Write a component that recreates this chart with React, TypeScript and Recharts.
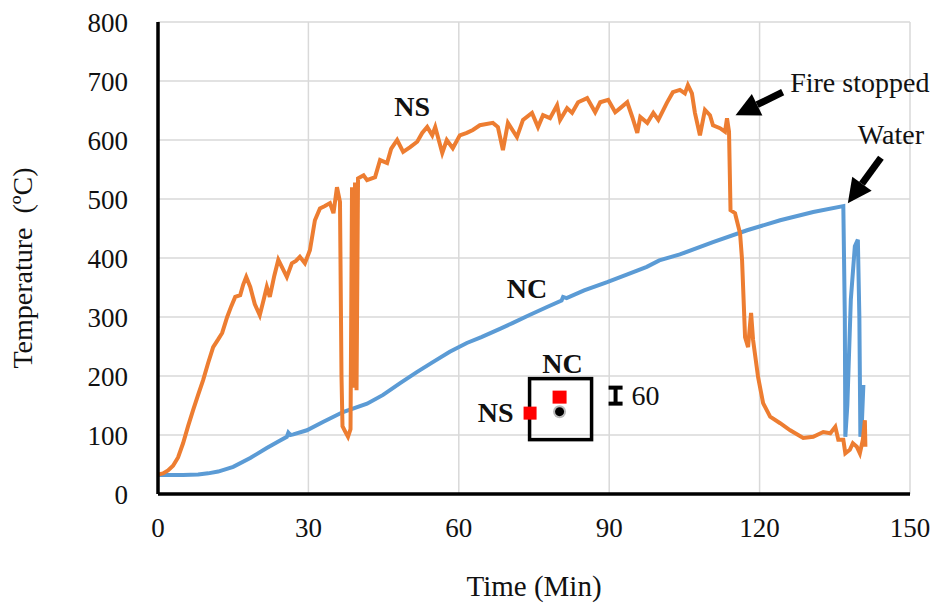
import React from 'react';
import {
  LineChart,
  Line,
  XAxis,
  YAxis,
  CartesianGrid,
  ReferenceDot,
  ReferenceLine,
} from 'recharts';

// NS thermocouple (time in min, temperature in degC)
const nsTime = [
  0, 1, 2, 3, 4, 5, 6, 7, 8, 9, 10, 11, 12, 12.8, 13.8, 14.6, 15.4, 16.4, 17, 17.6,
  18.4, 19.3, 20.3, 21.1, 21.7, 22.3, 23.2, 24, 25, 25.7, 26.7, 27.5, 28.3, 29.3, 30.3, 31.3,
  32.3, 33.3, 34.3, 35, 35.7, 36.3, 36.6, 36.8, 37.4, 37.9, 38.4, 38.7, 39.0, 39.3, 39.6, 39.9,
  40.3, 41.0, 41.7, 43.3, 44.3, 45.7, 46.5, 47.7, 48.9, 50.3, 51.7, 52.7, 53.7, 54.7, 55.3, 56.7,
  57.6, 58.8, 60.2, 61.6, 62.8, 64.2, 66.8, 67.8, 68.8, 69.8, 71.6, 72.8, 74.6, 75.8, 76.8, 78.2,
  79.6, 80.2, 81.6, 82.6, 83.8, 85.6, 87.2, 88.2, 89.8, 91.2, 92.2, 93.6, 94.6, 95.6, 96.2, 97.6,
  98.8, 99.8, 101.5, 102.7, 104.1, 105.1, 105.7, 106.5, 107.1, 108.1, 109.1, 110.1, 110.7, 112.1,
  113.1, 113.5, 113.9, 114.2, 115.1, 116.1, 116.5, 117.1, 117.7, 118.3, 118.7, 119.7, 120.7, 122.1,
  124.1, 126.1, 128.7, 130.7, 132.7, 134.1, 135.1, 135.7, 136.7, 137.1, 138, 138.6, 139.4, 140,
  140.6, 141, 141.1,
];
const nsTemp = [
  33, 35, 40, 48, 62, 86, 115, 142, 168, 193, 222, 249, 262, 273, 300, 318, 334, 337, 355, 368,
  351, 322, 303, 330, 351, 334, 370, 397, 380, 368, 391, 395, 402, 391, 413, 464,
  484, 488, 493, 476, 520, 495, 200, 115, 105, 97, 110, 520, 180, 528, 176, 535,
  537, 540, 532, 537, 566, 561, 585, 600, 580, 588, 597, 612, 622, 608, 622, 578,
  600, 586, 608, 612, 617, 625, 629, 622, 583, 629, 605, 634, 646, 622, 642, 637,
  659, 634, 654, 646, 664, 671, 647, 664, 668, 647, 654, 664, 639, 612, 639, 629,
  646, 634, 663, 681, 685, 679, 693, 679, 646, 608, 651, 642, 625, 620,
  614, 637, 614, 481, 476, 442, 397, 266, 249, 307, 261, 198, 154, 131,
  120, 108, 95, 97, 105, 103, 114, 92, 92, 69, 75, 86, 80, 69,
  92, 125, 80,
];

// NC thermocouple
const ncTime = [
  0, 5, 8, 10, 12, 15, 18.4, 21.7, 24, 25.7, 26, 26.4, 27, 29.7, 32.9, 36.9, 41.7, 44.9, 48.3,
  51.7, 54.9, 58.2, 61.6, 64.5, 68.2, 70.8, 74, 77.6, 80.5, 80.8, 81.5, 85, 89.6, 93.5, 97.5,
  100, 104.1, 110.7, 117.5, 124.1, 130.7, 136.7, 137.0, 137.1, 137.5, 138.2, 139, 139.6, 139.9,
  140.1, 140.4, 140.7,
];
const ncTemp = [
  32, 32, 33, 35, 38, 46, 61, 78, 89, 97, 104, 100, 101, 108, 122, 139, 153, 168, 188,
  207, 224, 241, 256, 266, 280, 290, 303, 317, 328, 334, 332, 345, 359, 372, 385,
  396, 406, 427, 447, 464, 478, 488, 300, 97, 150, 330, 420, 431, 300,
  97, 120, 185,
];

const xTicks = [0, 30, 60, 90, 120, 150];
const yTicks = [0, 100, 200, 300, 400, 500, 600, 700, 800];

const nsData = nsTime.map((t, i) => ({ t, v: nsTemp[i] }));
const ncData = ncTime.map((t, i) => ({ t, v: ncTemp[i] }));

const FONT = '"Liberation Serif", "Times New Roman", serif';
const INK = '#111';
const ANN = 28;

function arrowShape(props: any) {
  const { x1, y1, x2, y2 } = props;
  if (x1 == null) return <g />;
  const dx = x2 - x1;
  const dy = y2 - y1;
  const len = Math.sqrt(dx * dx + dy * dy);
  const ux = dx / len;
  const uy = dy / len;
  const head = 24;
  const half = 12;
  const bx = x2 - ux * head;
  const by = y2 - uy * head;
  return (
    <g>
      <line x1={x1} y1={y1} x2={bx} y2={by} stroke="#000" strokeWidth={7} />
      <polygon
        points={`${x2},${y2} ${bx - uy * half},${by + ux * half} ${bx + uy * half},${by - ux * half}`}
        fill="#000"
      />
    </g>
  );
}

function textShape(text: string, bold: boolean, anchor: 'start' | 'middle' | 'end' = 'middle') {
  return (props: any) => (
    <text
      x={props.cx}
      y={props.cy}
      textAnchor={anchor}
      dominantBaseline="central"
      fontFamily={FONT}
      fontSize={ANN}
      fontWeight={bold ? 'bold' : 'normal'}
      fill={INK}
    >
      {text}
    </text>
  );
}

// small section sketch next to the curves
function insetShape(props: any) {
  const { cx, cy } = props;
  return (
    <g>
      <rect x={cx - 31} y={cy - 31} width={62} height={61} fill="none" stroke="#000" strokeWidth={3.5} />
      <text x={cx + 2} y={cy - 46} textAnchor="middle" dominantBaseline="central" fontFamily={FONT}
        fontSize={ANN} fontWeight="bold" fill={INK}>NC</text>
      <text x={cx - 65} y={cy + 3} textAnchor="middle" dominantBaseline="central" fontFamily={FONT}
        fontSize={ANN} fontWeight="bold" fill={INK}>NS</text>
      <rect x={cx - 37} y={cy - 3} width={13} height={13} fill="#ff0000" />
      <rect x={cx - 8} y={cy - 19} width={14} height={13} fill="#ff0000" />
      <circle cx={cx - 1} cy={cy + 2} r={6.5} fill="#bbb" />
      <circle cx={cx - 1} cy={cy + 2} r={4.5} fill="#000" />
      <rect x={cx + 48} y={cy - 24} width={14} height={4} fill="#000" />
      <rect x={cx + 53} y={cy - 22} width={4} height={16} fill="#000" />
      <rect x={cx + 48} y={cy - 8} width={14} height={4} fill="#000" />
      <text x={cx + 71} y={cy - 14} textAnchor="start" dominantBaseline="central" fontFamily={FONT}
        fontSize={ANN} fill={INK}>60</text>
    </g>
  );
}

function YTitle(props: any) {
  const vb = props.viewBox || { x: 0, y: 22, height: 472 };
  const x = 22;
  const y = vb.y + vb.height / 2 + 10;
  return (
    <text
      x={x}
      y={y}
      transform={`rotate(-90, ${x}, ${y})`}
      textAnchor="middle"
      dominantBaseline="central"
      fontFamily={FONT}
      fontSize={28}
      fill={INK}
    >
      {'Temperature\u00a0\u00a0(ºC)'}
    </text>
  );
}

export default function App() {
  return (
    <div style={{ position: 'absolute', left: 0, top: 0, width: 946, height: 607, background: '#fff' }}>
      <LineChart width={946} height={607} margin={{ top: 22, right: 36, left: 0, bottom: 0 }}>
        <CartesianGrid stroke="#d9d9d9" strokeWidth={1.5} />
        <XAxis
          type="number"
          dataKey="t"
          domain={[0, 150]}
          ticks={xTicks}
          allowDataOverflow
          height={113}
          tickLine={false}
          tickSize={0}
          tickMargin={24}
          axisLine={{ stroke: '#000', strokeWidth: 3.5 }}
          tick={{ fontSize: 27, fill: INK, fontFamily: FONT }}
          label={{
            value: 'Time (Min)',
            position: 'insideBottom',
            offset: 11,
            style: { fontSize: 29, fill: INK, fontFamily: FONT },
          }}
        />
        <YAxis
          type="number"
          domain={[0, 800]}
          ticks={yTicks}
          width={158}
          tickLine={false}
          tickSize={0}
          tickMargin={30}
          axisLine={{ stroke: '#000', strokeWidth: 3.5 }}
          tick={{ fontSize: 27, fill: INK, fontFamily: FONT }}
          label={{ content: (p: any) => <YTitle {...p} /> }}
        />
        <Line
          data={ncData}
          dataKey="v"
          type="linear"
          stroke="#5B9BD5"
          strokeWidth={4}
          dot={false}
          isAnimationActive={false}
        />
        <Line
          data={nsData}
          dataKey="v"
          type="linear"
          stroke="#ED7D31"
          strokeWidth={4}
          dot={false}
          isAnimationActive={false}
        />
        <ReferenceDot x={50.7} y={656} r={0} shape={textShape('NS', true)} />
        <ReferenceDot x={73.6} y={349} r={0} shape={textShape('NC', true)} />
        <ReferenceDot x={126.1} y={697} r={0} shape={textShape('Fire stopped', false, 'start')} />
        <ReferenceDot x={139.6} y={609} r={0} shape={textShape('Water', false, 'start')} />
        <ReferenceDot x={80.3} y={143} r={0} shape={insetShape} />
        <ReferenceLine
          segment={[{ x: 124.6, y: 681 }, { x: 115.2, y: 642 }]}
          shape={arrowShape}
        />
        <ReferenceLine
          segment={[{ x: 144.2, y: 570 }, { x: 137.6, y: 493 }]}
          shape={arrowShape}
        />
      </LineChart>
    </div>
  );
}
